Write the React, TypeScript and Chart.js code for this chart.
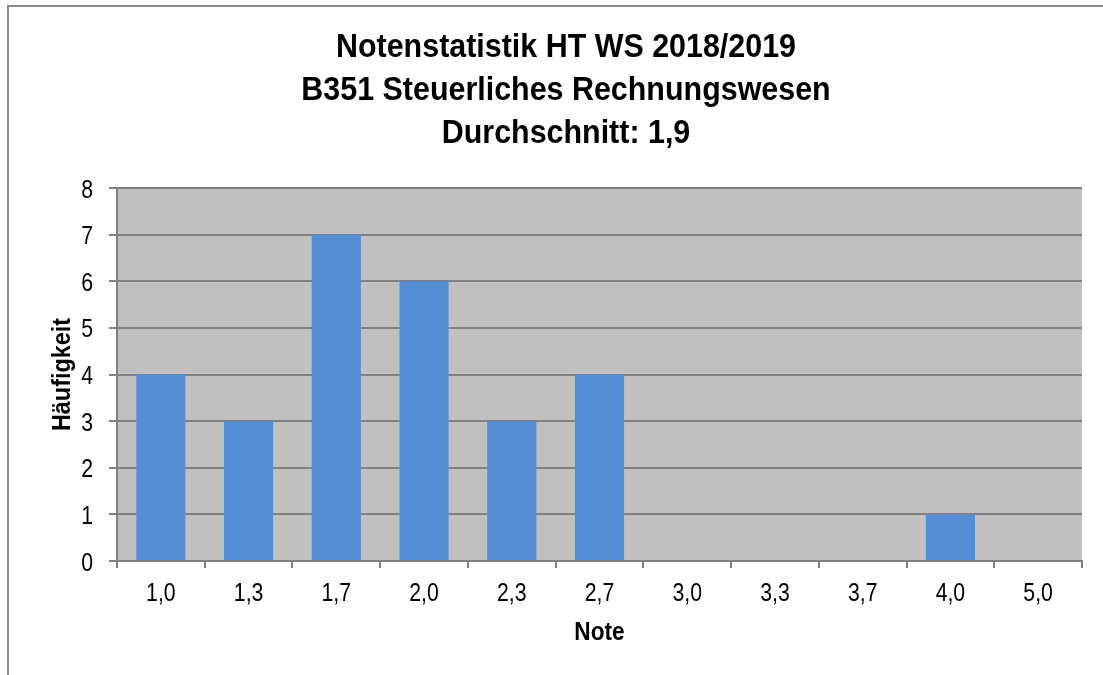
import React, { useEffect, useRef } from "react";
import { Chart, registerables } from "chart.js";

Chart.register(...registerables);

const categories = ["1,0", "1,3", "1,7", "2,0", "2,3", "2,7", "3,0", "3,3", "3,7", "4,0", "5,0"];
const counts = [4, 3, 7, 6, 3, 4, 0, 0, 0, 1, 0];
const yTickLabels = ["0", "1", "2", "3", "4", "5", "6", "7", "8"];
const titleLines = ["Notenstatistik HT WS 2018/2019", "B351 Steuerliches Rechnungswesen", "Durchschnitt: 1,9"];
const yTitle = "Häufigkeit";
const xTitle = "Note";

const FONT = "'Liberation Sans Narrow', 'Arial Narrow', 'Liberation Sans', Arial, sans-serif";

function condensedText(
  ctx: CanvasRenderingContext2D,
  text: string,
  x: number,
  y: number,
  font: string,
  align: CanvasTextAlign,
  sx: number,
  rotate = 0
) {
  ctx.save();
  ctx.translate(x, y);
  if (rotate) ctx.rotate(rotate);
  ctx.scale(sx, 1);
  ctx.font = font;
  ctx.fillStyle = "#000000";
  ctx.textAlign = align;
  ctx.textBaseline = "alphabetic";
  ctx.fillText(text, 0, 0);
  ctx.restore();
}

const framePlugin = {
  id: "frame",
  beforeDraw(chart: any) {
    const { ctx, chartArea } = chart;
    ctx.save();
    ctx.fillStyle = "#ffffff";
    ctx.fillRect(0, 0, chart.width, chart.height);
    ctx.strokeStyle = "#8a8a8a";
    ctx.lineWidth = 2;
    ctx.beginPath();
    ctx.moveTo(8, chart.height + 5);
    ctx.lineTo(8, 6);
    ctx.lineTo(chart.width + 5, 6);
    ctx.stroke();
    ctx.fillStyle = "#C0C0C0";
    ctx.fillRect(chartArea.left, chartArea.top, chartArea.right - chartArea.left, chartArea.bottom - chartArea.top);
    ctx.restore();
  },
  afterDraw(chart: any) {
    const { ctx, chartArea } = chart;
    const xs = chart.scales.x;
    const ys = chart.scales.y;
    // Title
    const titleFont = `bold 34px ${FONT}`;
    const titleBaselines = [57, 100, 143];
    titleLines.forEach((line, i) => condensedText(ctx, line, 566, titleBaselines[i], titleFont, "center", 0.895));
    // X tick labels
    const tickFont = `25px ${FONT}`;
    categories.forEach((c, i) => condensedText(ctx, c, xs.getPixelForTick(i), 601, tickFont, "center", 0.85));
    // Y tick labels
    yTickLabels.forEach((t) => {
      const v = Number(t);
      condensedText(ctx, t, 93, ys.getPixelForValue(v) + 9.5, tickFont, "right", 0.85);
    });
    // Axis titles
    const axisFont = `bold 26px ${FONT}`;
    condensedText(ctx, xTitle, (chartArea.left + chartArea.right) / 2, 640, axisFont, "center", 0.87);
    condensedText(ctx, yTitle, 70, (chartArea.top + chartArea.bottom) / 2, axisFont, "center", 0.9, -Math.PI / 2);
  },
};

export default function App() {
  const ref = useRef<HTMLCanvasElement>(null);
  useEffect(() => {
    const chart = new Chart(ref.current as HTMLCanvasElement, {
      type: "bar",
      data: {
        labels: categories,
        datasets: [
          {
            data: counts,
            backgroundColor: "#558ED5",
            barPercentage: 0.56,
            categoryPercentage: 1,
          },
        ],
      },
      options: {
        animation: false,
        responsive: false,
        devicePixelRatio: 1,
        layout: { padding: { left: 30, right: 21, top: 188, bottom: 0 } },
        plugins: {
          legend: { display: false },
          tooltip: { enabled: false },
          title: { display: false },
        },
        scales: {
          x: {
            offset: true,
            grid: {
              offset: true,
              drawOnChartArea: false,
              drawTicks: true,
              tickLength: 7,
              color: "#808080",
              lineWidth: 2,
            },
            border: { display: true, color: "#808080", width: 2 },
            ticks: { display: false },
            afterFit(scale: any) {
              scale.height = 114;
            },
          },
          y: {
            min: 0,
            max: 8,
            ticks: { stepSize: 1, display: false },
            grid: { color: "#808080", lineWidth: 2, tickLength: 8, drawTicks: true },
            border: { display: true, color: "#808080", width: 2 },
            afterFit(scale: any) {
              scale.width = 87;
            },
          },
        },
      },
      plugins: [framePlugin],
    });
    return () => chart.destroy();
  }, []);
  return (
    <div style={{ position: "fixed", left: 0, top: 0, width: 1103, height: 675, overflow: "hidden", background: "#fff" }}>
      <canvas ref={ref} width={1103} height={675} style={{ display: "block", width: 1103, height: 675 }} />
    </div>
  );
}
